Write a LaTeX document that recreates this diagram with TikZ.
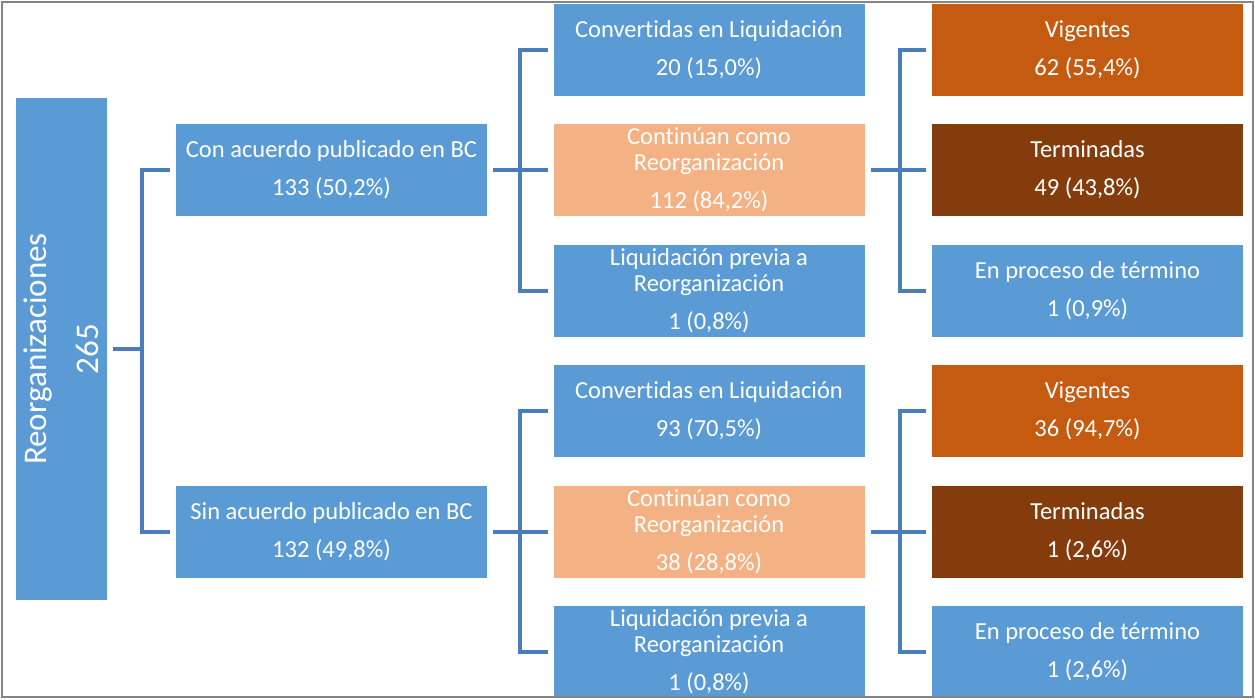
\documentclass[tikz,border=0pt]{standalone}
\usepackage{fontspec}
\setmainfont{Carlito}[Ligatures=NoCommon]
\usepackage{tikz}
\usetikzlibrary{positioning}

\definecolor{boxblue}{HTML}{5B9BD5}
\definecolor{boxpeach}{HTML}{F4B183}
\definecolor{boxorange}{HTML}{C55A11}
\definecolor{boxbrown}{HTML}{843C0C}
\definecolor{linkblue}{HTML}{4A7EBB}
\definecolor{framegray}{HTML}{858585}

\begin{document}
\begin{tikzpicture}[x=1pt,y=-1pt]
                \tikzstyle{box}=[fill=boxblue,text=white,minimum width=311pt,minimum height=92pt,inner sep=0pt,outer sep=6pt,align=center,font=\fontsize{24.5}{26}\selectfont]
                \tikzstyle{peach}=[fill=boxpeach]
                \tikzstyle{vig}=[fill=boxorange]
                \tikzstyle{ter}=[fill=boxbrown]
                \tikzstyle{link}=[draw=linkblue,line width=4pt]
                \useasboundingbox (0,0) rectangle (1255,699);

                % root, rotated: its south anchor faces right
                \node[box,rotate=90,minimum width=502pt,minimum height=91pt,font=\fontsize{33}{40}\selectfont] at (61.5,349) (r_0) {Reorganizaciones\\[12pt]265};

                \node[box] at (331.5,170) (g_1) {Con acuerdo publicado en BC\\[12pt]133 (50,2\%)};
                \node[box] at (331.5,531.5) (g_2) {Sin acuerdo publicado en BC\\[12pt]132 (49,8\%)};

                \node[box] at (709,49.5) (c_1) {Convertidas en Liquidación\\[12pt]20 (15,0\%)};
                \node[box,peach] at (709,170) (c_2) {Continúan como\\Reorganización\\[12pt]112 (84,2\%)};
                \node[box] at (709,290.5) (c_3) {Liquidación previa a\\Reorganización\\[12pt]1 (0,8\%)};
                \node[box] at (709,411) (c_4) {Convertidas en Liquidación\\[12pt]93 (70,5\%)};
                \node[box,peach] at (709,531.5) (c_5) {Continúan como\\Reorganización\\[12pt]38 (28,8\%)};
                \node[box] at (709,652) (c_6) {Liquidación previa a\\Reorganización\\[12pt]1 (0,8\%)};

                \node[box,vig] at (1087.5,49.5) (d_1) {Vigentes\\[12pt]62 (55,4\%)};
                \node[box,ter] at (1087.5,170) (d_2) {Terminadas\\[12pt]49 (43,8\%)};
                \node[box] at (1087.5,290.5) (d_3) {En proceso de término\\[12pt]1 (0,9\%)};
                \node[box,vig] at (1087.5,411) (d_4) {Vigentes\\[12pt]36 (94,7\%)};
                \node[box,ter] at (1087.5,531.5) (d_5) {Terminadas\\[12pt]1 (2,6\%)};
                \node[box] at (1087.5,652) (d_6) {En proceso de término\\[12pt]1 (2,6\%)};

                \draw[link] (r_0.south) -- ++(29,0) coordinate (j_0) |- (g_1.west);
                \draw[link] (j_0) |- (g_2.west);

                \draw[link] (g_1.east) -- (c_2.west);
                \draw[link] (c_1.west) -- ++(-28,0) |- (c_3.west);
                \draw[link] (g_2.east) -- (c_5.west);
                \draw[link] (c_4.west) -- ++(-28,0) |- (c_6.west);

                \draw[link] (c_2.east) -- (d_2.west);
                \draw[link] (d_1.west) -- ++(-26,0) |- (d_3.west);
                \draw[link] (c_5.east) -- (d_5.west);
                \draw[link] (d_4.west) -- ++(-26,0) |- (d_6.west);

                % frame
                \draw[framegray,line width=2pt] (2,2) rectangle (1253,697);
\end{tikzpicture}
\end{document}
